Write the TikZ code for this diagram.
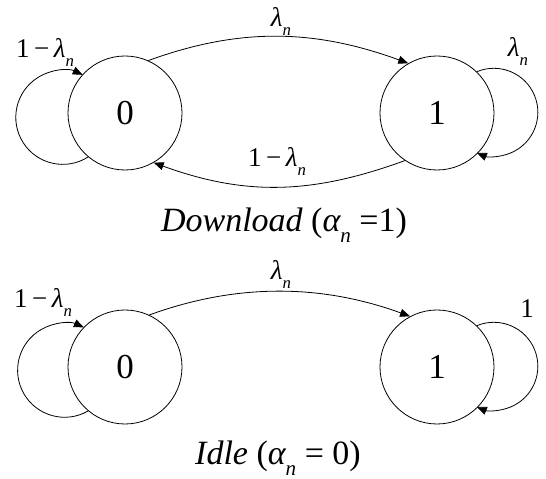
\documentclass[tikz,border=0pt]{standalone}
\usepackage{fontspec}
\setmainfont{Liberation Serif}
\usetikzlibrary{arrows.meta}
\newcommand{\lamn}{{\itshape λ}\raisebox{-0.32em}{\scalebox{0.62}{\itshape n}}}
\newcommand{\alfn}{{\itshape α}\raisebox{-0.32em}{\scalebox{0.62}{\itshape n}}}
\tikzset{
  state/.style={circle,draw,line width=0.8pt,minimum size=114pt,inner sep=0pt,font=\fontsize{35}{40}\selectfont},
  lbl/.style={anchor=base,inner sep=0pt,font=\fontsize{27}{30}\selectfont},
  captxt/.style={anchor=base,inner sep=0pt,font=\fontsize{34}{38}\selectfont},
  conn/.style={line width=0.8pt,-{Triangle[length=10pt,width=8pt]}}
}
\begin{document}
\begin{tikzpicture}[x=1pt,y=1pt]
\useasboundingbox (0,0) rectangle (546,479);
% top diagram
\node[state] (a0) at (125,366) {0};
\node[state] (a1) at (437,366) {1};
\draw[conn] (a0.66) to[out=20,in=160,looseness=0.97] (a1.120);
\draw[conn] (a1.236) to[out=200,in=-20,looseness=1] (a0.300);
\draw[conn] (a0.230) arc[start angle=-57.4,end angle=-295.2,radius=47];
\draw[conn] (a1.46) arc[start angle=112.7,end angle=-112.7,radius=44];
\node[lbl] (la1) at (281,452) {\lamn};
\node[lbl] (la2) at (45,421) {1\,−\,\lamn};
\node[lbl] (la3) at (518,422) {\lamn};
\node[lbl] (la4) at (277,312) {1\,−\,\lamn};
\node[captxt] (ca) at (284,247) {\itshape Download\upshape\ (\alfn\ =1)};
% bottom diagram
\node[state] (b0) at (125,112) {0};
\node[state] (b1) at (437,112) {1};
\draw[conn] (b0.65) to[out=20,in=160,looseness=0.92] (b1.118);
\draw[conn] (b0.230) arc[start angle=-60,end angle=-294.2,radius=47];
\draw[conn] (b1.46) arc[start angle=112.7,end angle=-112.7,radius=44];
\node[lbl] (lb1) at (281,199) {\lamn};
\node[lbl] (lb2) at (43,171) {1\,−\,\lamn};
\node[lbl] (lb3) at (527,161) {1};
\node[captxt] (cb) at (278,14) {\itshape Idle\upshape\ (\alfn\ = 0)};
\end{tikzpicture}
\end{document}
